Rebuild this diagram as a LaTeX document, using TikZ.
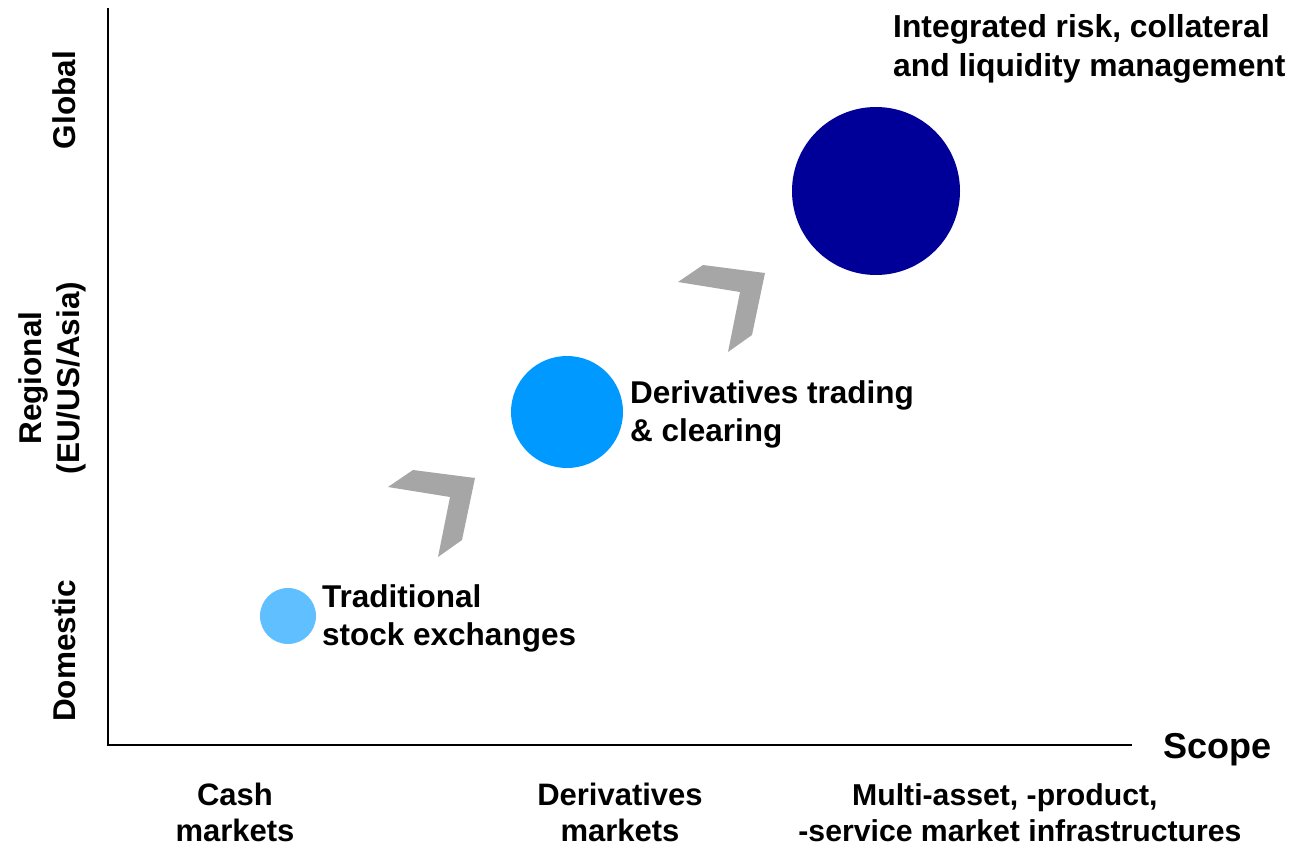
\documentclass[tikz,border=0pt]{standalone}
\usepackage{fontspec}
\setmainfont{Liberation Sans}
\definecolor{lightdot}{HTML}{5FBFFF}
\definecolor{middot}{HTML}{0099FF}
\definecolor{bigdot}{HTML}{000099}
\definecolor{chevgray}{HTML}{A6A6A6}
\begin{document}
\begin{tikzpicture}[x=1pt,y=-1pt,
  lbl/.style={font=\fontsize{31.5}{38}\selectfont\bfseries, inner sep=0pt},
  xlbl/.style={lbl, align=center, anchor=north, font=\fontsize{31}{36}\selectfont\bfseries},
  dot/.style={circle, inner sep=0pt, draw=none},
  chev/.style={fill=chevgray, draw=none},
  axis/.style={line width=2.2pt, black}]
\useasboundingbox (0,0) rectangle (1293,848);
% axes
\coordinate (top) at (108,8);
\coordinate (orig) at (108,745);
\coordinate (xend) at (1132,745);
\draw[axis] (top) -- (orig) -- (xend);
% circles
\node[dot, fill=lightdot, minimum size=56pt] (c1) at (288,616) {};
\node[dot, fill=middot, minimum size=112pt] (c2) at (567,412) {};
\node[dot, fill=bigdot, minimum size=168pt] (c3) at (876,191) {};
% chevrons
\fill[chev] (413,470) -- (475,478) -- (462,540) -- (438,557) -- (450,497) -- (388,487) -- cycle;
\fill[chev] (703,265) -- (765,273) -- (752,335) -- (728,352) -- (740,292) -- (678,282) -- cycle;
% labels
\node[lbl, anchor=north west, align=left] (t1) at (322,584) {Traditional\\stock exchanges};
\node[lbl, anchor=north west, align=left] (t2) at (630,380) {Derivatives trading\\\& clearing};
\node[lbl, anchor=north west, align=left, font=\fontsize{31.8}{39}\selectfont\bfseries] (t3) at (893,14) {Integrated risk, collateral\\and liquidity management};
% axis labels
\node[lbl, font=\fontsize{36}{40}\selectfont\bfseries, anchor=base west] (scope) at (1163,758) {Scope};
\node[lbl, rotate=90] (yg) at (64,100) {Global};
\node[lbl, rotate=90, align=center] (yr) at (52,378) {Regional\\(EU/US/Asia)};
\node[lbl, rotate=90] (yd) at (64,651) {Domestic};
\node[xlbl] (xc) at (235,783) {Cash\\markets};
\node[xlbl] (xd) at (620,783) {Derivatives\\markets};
\node[xlbl, font=\fontsize{30.2}{36}\selectfont\bfseries] (xm) at (1020,783) {Multi-asset, -product,\hspace*{1em}\\-service market infrastructures};
\end{tikzpicture}
\end{document}
